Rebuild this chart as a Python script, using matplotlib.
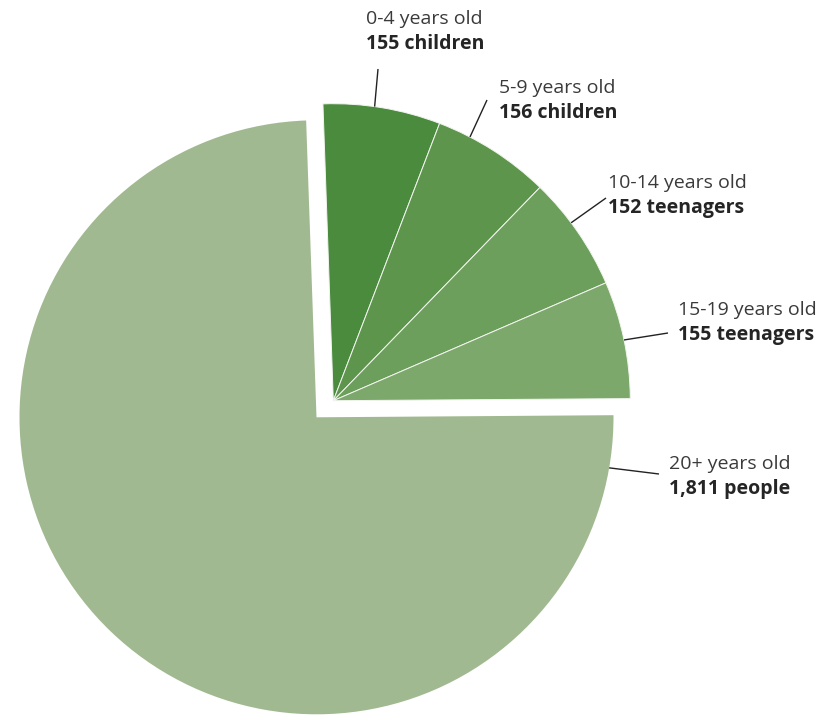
import numpy as np
import matplotlib.pyplot as plt

plt.rcParams['font.family'] = ['Open Sans', 'DejaVu Sans']

# data
groups = ["0-4 years old", "5-9 years old", "10-14 years old", "15-19 years old", "20+ years old"]
counts = [155, 156, 152, 155, 1811]
count_labels = ["155 children", "156 children", "152 teenagers", "155 teenagers", "1,811 people"]
colors = ["#4b8b3e", "#5c954b", "#6c9f5b", "#7ca86c", "#a1b990"]

W, H = 821, 715
fig = plt.figure(figsize=(W / 100, H / 100), dpi=100)
ax = fig.add_axes([0, 0, 1, 1])

R = 297
start = 92
big_c = (316.5, H - 417.3)
small_c = (333.3, H - 400.7)

wedges, _ = ax.pie(counts, colors=colors, startangle=start, counterclock=False,
                   radius=R, center=big_c,
                   wedgeprops=dict(edgecolor="#f2f5ef", linewidth=0.7))
wedges[-1].set_linewidth(0)
for w in wedges[:-1]:
    w.set_center(small_c)

# label layout (pixel coords, y down): line start angle, line end, text left/centre
anchor_ang = [82, 62.6, 36.8, 11.8, -9.8]
line_end = [(378, 69), (487, 100), (606, 198), (668, 333), (659, 474)]
text_pos = [(366, 19), (499, 88), (608, 183), (678, 310), (669, 464)]

for i in range(len(counts)):
    c = small_c if i < 4 else big_c
    a = np.radians(anchor_ang[i])
    x0 = c[0] + R * np.cos(a)
    y0 = c[1] + R * np.sin(a)
    ex, ey = line_end[i]
    ax.plot([x0, ex], [y0, H - ey], color="#222222", lw=1.0, solid_capstyle="butt")
    tx, ty = text_pos[i]
    ax.text(tx, H - ty, groups[i], fontsize=14, color="#3a3a3a", va="center", ha="left")
    ax.text(tx, H - ty - 25, count_labels[i], fontsize=14, fontweight="bold",
            color="#252525", va="center", ha="left")

ax.set_xlim(0, W)
ax.set_ylim(0, H)
ax.set_aspect("equal")
ax.axis("off")

fig.savefig("out.png", dpi=100)
